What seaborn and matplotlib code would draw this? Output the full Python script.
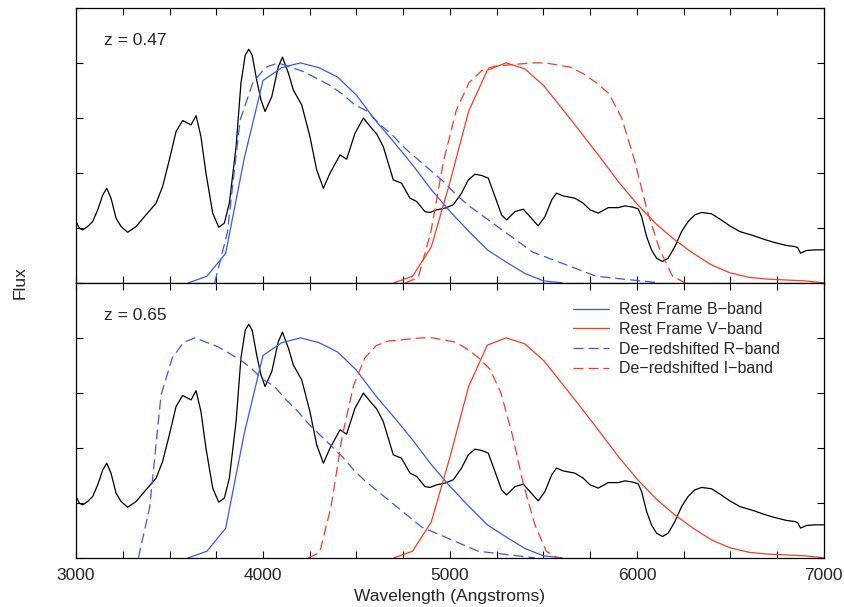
import numpy as np
import pandas as pd
import seaborn as sns
import matplotlib
matplotlib.use('Agg')
import matplotlib.pyplot as plt
from matplotlib.ticker import MultipleLocator

# Spektrum (Ruhesystem, normiert)
spec_wave = [3000, 3018, 3036, 3062, 3089, 3116, 3143, 3164, 3187, 3214, 3241, 3276, 3321, 3374,
             3428, 3463, 3499, 3535, 3570, 3615, 3642, 3668, 3695, 3731, 3763, 3793, 3820, 3856,
             3882, 3905, 3924, 3942, 3966, 3989, 4011, 4047, 4082, 4104, 4136, 4162, 4207, 4251,
             4287, 4323, 4358, 4412, 4447, 4492, 4537, 4581, 4608, 4643, 4697, 4741, 4786, 4822,
             4866, 4893, 4929, 4975, 5018, 5062, 5098, 5134, 5170, 5205, 5241, 5276, 5303, 5348,
             5392, 5428, 5472, 5508, 5544, 5570, 5606, 5668, 5713, 5749, 5793, 5847, 5900, 5936,
             5980, 6007, 6025, 6052, 6078, 6105, 6137, 6167, 6203, 6239, 6274, 6310, 6346, 6399,
             6444, 6497, 6551, 6622, 6676, 6729, 6800, 6845, 6860, 6875, 6907, 6950, 7000]
spec_flux = [0.279, 0.248, 0.241, 0.256, 0.279, 0.332, 0.400, 0.430, 0.385, 0.294, 0.256, 0.230, 0.256, 0.309,
             0.362, 0.438, 0.559, 0.688, 0.738, 0.718, 0.760, 0.665, 0.498, 0.317, 0.253, 0.271, 0.362, 0.620,
             0.908, 1.035, 1.062, 1.035, 0.923, 0.832, 0.779, 0.847, 0.983, 1.026, 0.953, 0.877, 0.809, 0.665,
             0.514, 0.430, 0.498, 0.582, 0.562, 0.680, 0.749, 0.703, 0.677, 0.620, 0.468, 0.453, 0.385, 0.370,
             0.324, 0.320, 0.332, 0.340, 0.355, 0.408, 0.468, 0.494, 0.488, 0.476, 0.392, 0.309, 0.286, 0.324,
             0.335, 0.301, 0.259, 0.301, 0.377, 0.408, 0.395, 0.385, 0.362, 0.332, 0.317, 0.342, 0.342, 0.350,
             0.344, 0.336, 0.301, 0.210, 0.150, 0.112, 0.097, 0.112, 0.165, 0.233, 0.279, 0.309, 0.320, 0.314,
             0.290, 0.259, 0.233, 0.215, 0.199, 0.185, 0.170, 0.165, 0.160, 0.135, 0.147, 0.150, 0.150]

# Filterkurven (Bessell)
b_wave = [3600, 3700, 3800, 3900, 4000, 4100, 4200, 4300, 4400, 4500, 4600, 4700, 4800, 4900,
          5000, 5100, 5200, 5300, 5400, 5500, 5600]
b_trans = [0.0, 0.03, 0.134, 0.567, 0.920, 0.978, 1.0, 0.978, 0.935, 0.853, 0.740, 0.640, 0.536,
           0.424, 0.325, 0.235, 0.150, 0.095, 0.043, 0.009, 0.0]

v_wave = [4700, 4800, 4900, 5000, 5100, 5200, 5300, 5400, 5500, 5600, 5700, 5800, 5900, 6000,
          6100, 6200, 6300, 6400, 6500, 6600, 6700, 6800, 6900, 7000]
v_trans = [0.0, 0.03, 0.163, 0.458, 0.780, 0.967, 1.0, 0.973, 0.898, 0.792, 0.684, 0.574, 0.461,
           0.359, 0.270, 0.197, 0.135, 0.081, 0.045, 0.025, 0.017, 0.013, 0.009, 0.0]

r_wave = [5500, 5600, 5700, 5800, 5900, 6000, 6100, 6200, 6300, 6400, 6500, 6600, 6700, 6800,
          6900, 7000, 7100, 7200, 7300, 7400, 7500, 8000, 8500, 9000]
r_trans = [0.0, 0.23, 0.74, 0.91, 0.98, 1.0, 0.98, 0.96, 0.93, 0.90, 0.86, 0.81, 0.78, 0.72,
           0.67, 0.61, 0.56, 0.51, 0.46, 0.40, 0.35, 0.14, 0.03, 0.0]

i_wave = [7000, 7100, 7200, 7300, 7400, 7500, 7600, 7700, 7800, 7900, 8000, 8100, 8200, 8300,
          8400, 8500, 8600, 8700, 8800, 8900, 9000, 9100, 9200]
i_trans = [0.0, 0.024, 0.232, 0.555, 0.785, 0.910, 0.965, 0.985, 0.990, 0.995, 1.0, 1.0, 0.990,
           0.980, 0.950, 0.910, 0.860, 0.750, 0.560, 0.330, 0.150, 0.030, 0.0]

redshifts = [0.47, 0.65]

blue = '#3358ff'
red = '#ff3a22'

sns.set_theme(style='ticks')
plt.rcParams['font.family'] = ['Liberation Sans', 'DejaVu Sans']

fig, axes = plt.subplots(2, 1, figsize=(8.45, 6.07), dpi=100, sharex=True)
fig.subplots_adjust(left=0.09, right=0.975, top=0.987, bottom=0.081, hspace=0)

for ax, z in zip(axes, redshifts):
    sns.lineplot(x=spec_wave, y=spec_flux, ax=ax, color='black', lw=0.9, sort=False, estimator=None)
    sns.lineplot(x=b_wave, y=b_trans, ax=ax, color=blue, lw=0.9, label='Rest Frame B\u2212band',
                 sort=False, estimator=None)
    sns.lineplot(x=v_wave, y=v_trans, ax=ax, color=red, lw=0.9, label='Rest Frame V\u2212band',
                 sort=False, estimator=None)
    ax.plot(np.array(r_wave) / (1 + z), r_trans, color=blue, lw=0.9, dashes=(8, 4),
            label='De\u2212redshifted R\u2212band')
    ax.plot(np.array(i_wave) / (1 + z), i_trans, color=red, lw=0.9, dashes=(8, 4),
            label='De\u2212redshifted I\u2212band')

    ax.set_xlim(3000, 7000)
    ax.set_ylim(0, 1.25)
    ax.xaxis.set_major_locator(MultipleLocator(1000))
    ax.xaxis.set_minor_locator(MultipleLocator(250))
    ax.yaxis.set_major_locator(MultipleLocator(0.25))
    ax.tick_params(which='both', direction='in', top=True, right=True, length=5, width=0.8,
                   labelleft=False, labelsize=12.5, pad=7, color='black')
    for s in ax.spines.values():
        s.set_linewidth(0.9)
        s.set_color('black')
    ax.text(0.037, 0.865, f'z = {z}', transform=ax.transAxes, fontsize=12.5)
    ax.set_ylabel('')

axes[0].get_legend().remove()
axes[1].legend(loc='upper left', bbox_to_anchor=(0.664, 0.93), frameon=False, fontsize=11.5,
               handlelength=2.3, handletextpad=0.6, labelspacing=0.3, borderaxespad=0, borderpad=0)
axes[0].tick_params(labelbottom=False)
axes[1].set_xlabel('Wavelength (Angstroms)', fontsize=12.5, labelpad=5)
fig.text(0.024, 0.535, 'Flux', rotation=90, ha='center', va='center', fontsize=12.5)

fig.savefig('out.png', dpi=100)
